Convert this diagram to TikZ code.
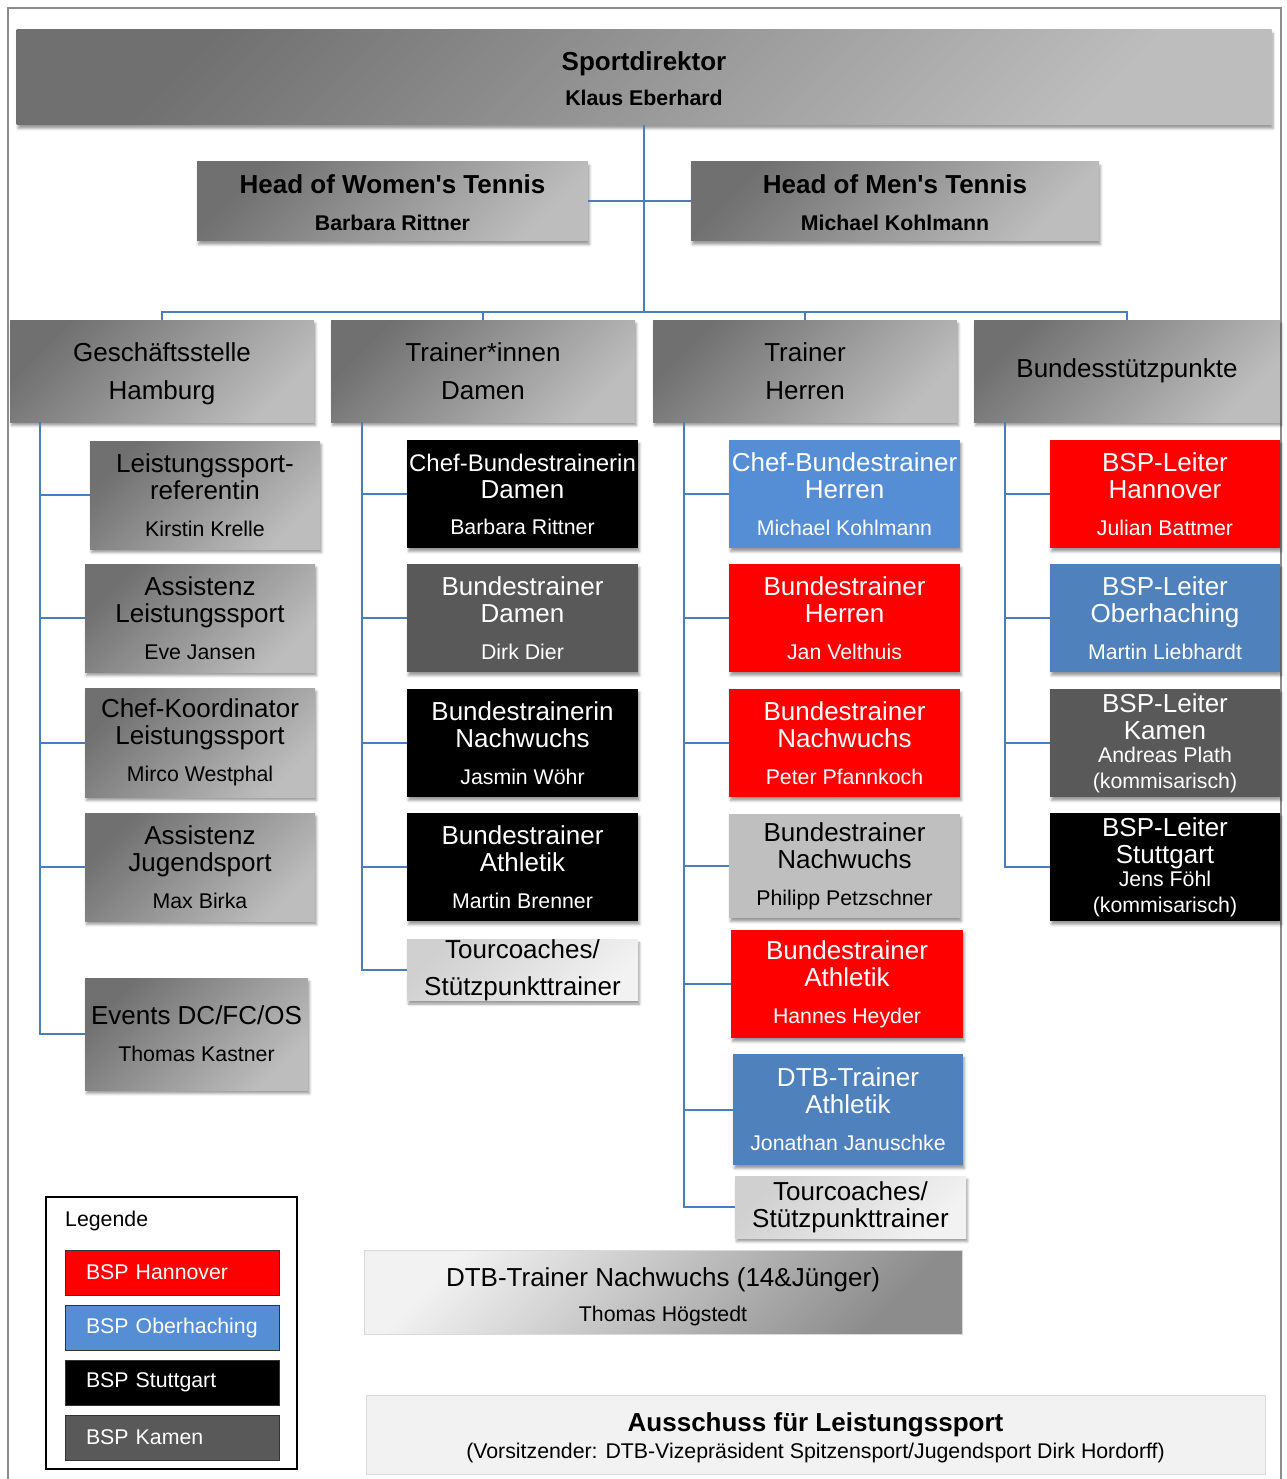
\documentclass[tikz,border=0pt]{standalone}
\usepackage{fontspec}
\setmainfont{Liberation Sans}
\usetikzlibrary{shadows.blur}
\definecolor{conn}{HTML}{4A7EBB}
\definecolor{gDark}{HTML}{707070}
\definecolor{gLight}{HTML}{BDBDBD}
\definecolor{bspred}{HTML}{FF0000}
\definecolor{blueA}{HTML}{558ED5}
\definecolor{blueB}{HTML}{4F81BD}
\definecolor{darkg}{HTML}{595959}
\definecolor{lightg}{HTML}{BFBFBF}
\definecolor{paleA}{HTML}{D0D0D0}
\definecolor{paleB}{HTML}{F2F2F2}
\definecolor{frameg}{HTML}{8C8C8C}
\newcommand\ftitle{\fontsize{26}{27}\selectfont}
\newcommand\fname{\fontsize{21.3}{24}\selectfont}
\newcommand\fnamek{\fontsize{21.3}{23}\selectfont}
\begin{document}
\begin{tikzpicture}[x=1pt,y=-1pt,
  box/.style={rectangle, inner sep=0pt, align=center, font=\ftitle,
    blur shadow={shadow xshift=1.5pt, shadow yshift=-3.5pt, shadow blur radius=2.5pt, shadow opacity=40}},
  grad/.style={box, left color=gDark, right color=gLight, shading angle=45, text=black},
  pale/.style={box, left color=paleA, right color=paleB, shading angle=45, text=black},
  redbox/.style={box, fill=bspred, text=white},
  bluea/.style={box, fill=blueA, text=white},
  blueb/.style={box, fill=blueB, text=white},
  blackbox/.style={box, fill=black, text=white},
  darkbox/.style={box, fill=darkg, text=white},
  lightbox/.style={box, fill=lightg, text=black},
  colbox/.style={minimum width=231, minimum height=108},
  conn/.style={draw=conn, line width=2pt},
  legbox/.style={rectangle, draw=black!80, line width=0.8pt, minimum height=45,
    text width=172pt, inner xsep=21pt, inner ysep=0pt, align=left, font=\fname, text=white}
]
\useasboundingbox (0,0) rectangle (1286,1479);
\draw[frameg, line width=1.6pt] (8,1479) -- (8,8) -- (1281,8) -- (1281,1479);

% top
\node[grad, minimum width=1255, minimum height=95, font=\bfseries\ftitle] (sd) at (644,77.5)
  {\rule{0pt}{22pt}Sportdirektor\\[8pt]\fname Klaus Eberhard};
\node[grad, minimum width=391, minimum height=79, font=\bfseries\ftitle] (hw) at (392.5,201.5)
  {\rule{0pt}{22pt}Head of Women\textquotesingle s Tennis\\[10pt]\fname Barbara Rittner};
\node[grad, minimum width=408, minimum height=79, font=\bfseries\ftitle] (hm) at (895,201.5)
  {\rule{0pt}{22pt}Head of Men\textquotesingle s Tennis\\[10pt]\fname Michael Kohlmann};

% level 2
\node[grad, minimum width=304, minimum height=102] (gs) at (162,371) {\rule{0pt}{25pt}Geschäftsstelle\\[11pt]Hamburg};
\node[grad, minimum width=304, minimum height=102] (td) at (483,371) {Trainer*innen\\[11pt]Damen};
\node[grad, minimum width=304, minimum height=102] (th) at (805,371) {Trainer\\[11pt]Herren};
\node[grad, minimum width=306, minimum height=102] (bs) at (1127,371) {Bundesstützpunkte};

% Geschäftsstelle column
\node[grad, minimum width=230, minimum height=108] (lr) at (205,495) {Leistungssport-\\referentin\\[10pt]\fname Kirstin Krelle};
\node[grad, minimum width=230, minimum height=108] (al) at (200,618) {Assistenz\\Leistungssport\\[10pt]\fname Eve Jansen};
\node[grad, minimum width=230, minimum height=109] (ck) at (200,742.5) {Chef-Koordinator\\Leistungssport\\[10pt]\fname Mirco Westphal};
\node[grad, minimum width=230, minimum height=108] (aj) at (200,867) {Assistenz\\Jugendsport\\[10pt]\fname Max Birka};
\node[grad, minimum width=223, minimum height=112] (ev) at (196.5,1034) {Events DC/FC/OS\\[10pt]\fname Thomas Kastner};

% Damen column
\node[blackbox, colbox] (d1) at (522.5,494) {{\fontsize{24}{27}\selectfont Chef-Bundestrainerin}\\Damen\\[9pt]\fname Barbara Rittner};
\node[darkbox, colbox] (d2) at (522.5,618) {Bundestrainer\\Damen\\[10pt]\fname Dirk Dier};
\node[blackbox, colbox] (d3) at (522.5,743) {Bundestrainerin\\Nachwuchs\\[10pt]\fname Jasmin Wöhr};
\node[blackbox, colbox] (d4) at (522.5,867) {Bundestrainer\\Athletik\\[10pt]\fname Martin Brenner};
\node[pale, minimum width=231, minimum height=60] (d5) at (522.5,970) {Tourcoaches/\\[10pt]Stützpunkttrainer};

% Herren column
\node[bluea, colbox] (h1) at (844.5,494) {Chef-Bundestrainer\\Herren\\[10pt]\fname Michael Kohlmann};
\node[redbox, colbox] (h2) at (844.5,618) {Bundestrainer\\Herren\\[10pt]\fname Jan Velthuis};
\node[redbox, colbox] (h3) at (844.5,743) {Bundestrainer\\Nachwuchs\\[10pt]\fname Peter Pfannkoch};
\node[lightbox, minimum width=231, minimum height=104] (h4) at (844.5,866) {Bundestrainer\\Nachwuchs\\[10pt]\fname Philipp Petzschner};
\node[redbox, minimum width=232, minimum height=108] (h5) at (847,984) {Bundestrainer\\Athletik\\[10pt]\fname Hannes Heyder};
\node[blueb, minimum width=230, minimum height=111] (h6) at (848,1109.5) {DTB-Trainer\\Athletik\\[10pt]\fname Jonathan Januschke};
\node[pale, minimum width=231, minimum height=62] (h7) at (850.5,1207) {Tourcoaches/\\Stützpunkttrainer};

% BSP column
\node[redbox, minimum width=230, minimum height=108] (b1) at (1165,494) {BSP-Leiter\\Hannover\\[10pt]\fname Julian Battmer};
\node[blueb, minimum width=230, minimum height=108] (b2) at (1165,618) {BSP-Leiter\\Oberhaching\\[10pt]\fname Martin Liebhardt};
\node[darkbox, minimum width=230, minimum height=108] (b3) at (1165,743) {BSP-Leiter\\Kamen\\[-4pt]\fnamek Andreas Plath\\[-1pt]\fnamek (kommisarisch)};
\node[blackbox, minimum width=230, minimum height=108] (b4) at (1165,867) {BSP-Leiter\\Stuttgart\\[-4pt]\fnamek Jens Föhl\\[-1pt]\fnamek (kommisarisch)};

% bottom boxes
\node[rectangle, inner sep=0pt, align=center, font=\ftitle, draw=black!15, left color=paleB, right color=black!45, shading angle=45,
  minimum width=598, minimum height=84] (nw) at (663,1292)
  {\rule{0pt}{29pt}DTB-Trainer Nachwuchs (14\&Jünger)\\[8pt]\fname Thomas Högstedt};
\node[rectangle, inner sep=0pt, align=center, font=\ftitle, draw=black!15, fill=paleB,
  minimum width=899, minimum height=79] (au) at (815.5,1434.5)
  {\rule{0pt}{26pt}\textbf{Ausschuss für Leistungssport}\\[0pt]\fname (Vorsitzender: DTB-Vizepräsident Spitzensport/Jugendsport Dirk Hordorff)};

% legend
\node[rectangle, draw=black, line width=1.2pt, minimum width=251, minimum height=272, inner sep=0pt] (leg) at (171.5,1333) {};
\node[anchor=west, inner sep=0pt, font=\fname] (legt) at (65,1221) {Legende};
\node[legbox, fill=bspred] (l1) at (172,1272.5) {BSP Hannover};
\node[legbox, fill=blueA] (l2) at (172,1327.5) {BSP Oberhaching};
\node[legbox, fill=black] (l3) at (172,1382.5) {BSP Stuttgart};
\node[legbox, fill=darkg] (l4) at (172,1437.5) {BSP Kamen};

% connectors
\coordinate (bus) at (644,312);
\draw[conn] (sd.south) -- (bus);
\draw[conn] (hw.east) -- (hm.west);
\draw[conn] (gs.north) |- (bus);
\draw[conn] (td.north) |- (bus);
\draw[conn] (th.north) |- (bus);
\draw[conn] (bus) -| (bs.north);

\foreach \c in {lr,al,ck,aj,ev} \draw[conn] ([xshift=30pt]gs.south west) |- (\c.west);
\foreach \c in {d1,d2,d3,d4,d5} \draw[conn] ([xshift=31pt]td.south west) |- (\c.west);
\foreach \c in {h1,h2,h3,h4,h5,h6,h7} \draw[conn] ([xshift=31pt]th.south west) |- (\c.west);
\foreach \c in {b1,b2,b3,b4} \draw[conn] ([xshift=31pt]bs.south west) |- (\c.west);
\end{tikzpicture}
\end{document}
